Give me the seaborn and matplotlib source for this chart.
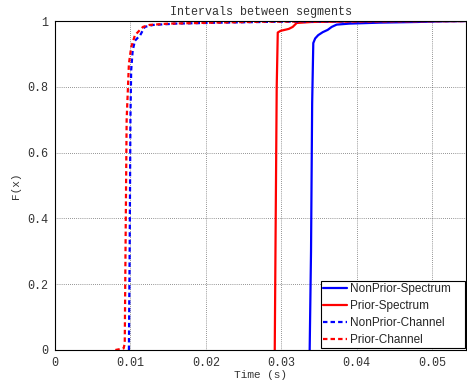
import numpy as np
import pandas as pd
import matplotlib
matplotlib.use("Agg")
import matplotlib.pyplot as plt
import seaborn as sns

# CDF curves (time in s, cumulative fraction)
nonprior_spec_t = [0.03377, 0.03395, 0.03410, 0.03425, 0.03450, 0.03490, 0.03550, 0.03616,
                   0.03669, 0.03735, 0.03900, 0.04300, 0.04800, 0.05100, 0.05450]
nonprior_spec_f = [0.0, 0.30, 0.75, 0.933, 0.947, 0.957, 0.966, 0.973,
                   0.982, 0.989, 0.992, 0.995, 0.997, 0.999, 1.0]

prior_spec_t = [0.02914, 0.02925, 0.02940, 0.02954, 0.02990, 0.03046, 0.03100, 0.03152,
                0.03205, 0.03400, 0.04000, 0.05450]
prior_spec_f = [0.0, 0.35, 0.80, 0.965, 0.970, 0.973, 0.976, 0.982,
                0.994, 0.997, 0.999, 1.0]

nonprior_chan_t = [0.00980, 0.00990, 0.01000, 0.01010, 0.01030, 0.01060, 0.01130, 0.01190,
                   0.01300, 0.01600, 0.02200, 0.03000, 0.05450]
nonprior_chan_f = [0.0, 0.30, 0.70, 0.85, 0.91, 0.94, 0.957, 0.982,
                   0.988, 0.992, 0.995, 0.998, 1.0]

prior_chan_t = [0.00800, 0.00910, 0.00925, 0.00935, 0.00950, 0.00980, 0.01010, 0.01060,
                0.01166, 0.01250, 0.01500, 0.02100, 0.02800, 0.05450]
prior_chan_f = [0.0, 0.005, 0.02, 0.30, 0.70, 0.87, 0.92, 0.957,
                0.982, 0.988, 0.992, 0.995, 0.998, 1.0]

series_names = ["NonPrior-Spectrum", "Prior-Spectrum", "NonPrior-Channel", "Prior-Channel"]
series_t = [nonprior_spec_t, prior_spec_t, nonprior_chan_t, prior_chan_t]
series_f = [nonprior_spec_f, prior_spec_f, nonprior_chan_f, prior_chan_f]

x_ticks = [0, 0.01, 0.02, 0.03, 0.04, 0.05]
x_tick_labels = ["0", "0.01", "0.02", "0.03", "0.04", "0.05"]
y_ticks = [0, 0.2, 0.4, 0.6, 0.8, 1.0]
y_tick_labels = ["0", "0.2", "0.4", "0.6", "0.8", "1"]

rows = []
for name, ts, fs in zip(series_names, series_t, series_f):
    for i, (t, f) in enumerate(zip(ts, fs)):
        rows.append({"series": name, "order": i, "t": t, "F": f})
df = pd.DataFrame(rows)

sns.set_style("white")
plt.rcParams["font.family"] = ["Liberation Mono", "DejaVu Sans Mono"]

fig = plt.figure(figsize=(4.67, 3.88), dpi=100)
ax = fig.add_axes([55 / 467, 1 - 350 / 388, 411 / 467, 329 / 388])

palette = {"NonPrior-Spectrum": "#0000ff", "Prior-Spectrum": "#ff0000",
           "NonPrior-Channel": "#0000ff", "Prior-Channel": "#ff0000"}
dashes = {"NonPrior-Spectrum": "", "Prior-Spectrum": "",
          "NonPrior-Channel": (2, 1.4), "Prior-Channel": (2, 1.4)}

sns.lineplot(data=df, x="t", y="F", hue="series", style="series",
             hue_order=series_names, style_order=series_names,
             palette=palette, dashes=dashes, sort=False, estimator=None,
             linewidth=1.6, ax=ax)

ax.set_xlim(0, 0.0545)
ax.set_ylim(0, 1)
ax.set_xticks(x_ticks)
ax.set_xticklabels(x_tick_labels)
ax.set_yticks(y_ticks)
ax.set_yticklabels(y_tick_labels)
ax.tick_params(direction="in", length=3, labelsize=8.5, colors="#333333", pad=5)
ax.grid(True, color="#333333", linestyle=(0, (1, 2)), linewidth=0.5)
for s in ax.spines.values():
    s.set_color("black")
    s.set_linewidth(0.8)

ax.set_title("Intervals between segments", fontsize=8.5, pad=4, color="#333333")
ax.set_xlabel("Time (s)", fontsize=8, labelpad=1, color="#333333")
ax.set_ylabel("F(x)", fontsize=8, labelpad=4, color="#333333")

leg = ax.legend(loc="lower left", bbox_to_anchor=(0.647, 0.006, 0.351, 0.2),
                mode="expand", frameon=True, fancybox=False, framealpha=1,
                edgecolor="black", borderaxespad=0.0, handlelength=2.0,
                handletextpad=0.25, labelspacing=0.4, borderpad=0.2,
                prop={"family": "Liberation Sans", "size": 8.5})
leg.get_frame().set_linewidth(0.8)

fig.savefig("out.png", dpi=100)
